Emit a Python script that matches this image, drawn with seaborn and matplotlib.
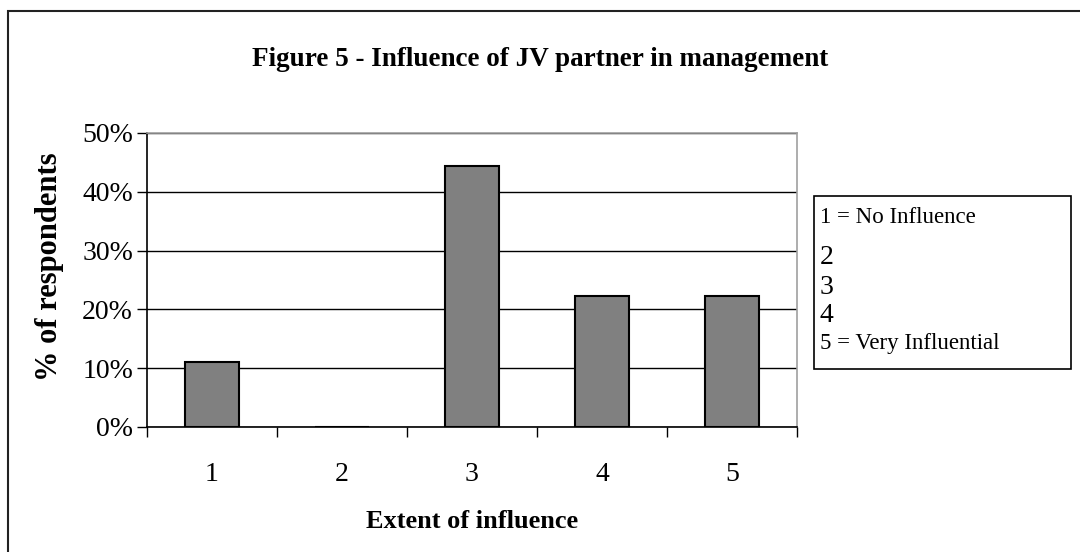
import pandas as pd
import seaborn as sns
import matplotlib.pyplot as plt
from matplotlib.patches import Rectangle

# Chart data
categories = ['1', '2', '3', '4', '5']
percent_respondents = [11.1, 0.0, 44.4, 22.2, 22.2]
y_ticks = [0, 10, 20, 30, 40, 50]
legend_lines = ['1 = No Influence', '2', '3', '4', '5 = Very Influential']

data = pd.DataFrame({'Extent': categories, 'Percent': percent_respondents})

sns.set_theme(style='white')
plt.rcParams['font.family'] = ['Liberation Serif', 'DejaVu Serif']
plt.rcParams['text.color'] = 'black'
plt.rcParams['axes.labelcolor'] = 'black'
plt.rcParams['xtick.color'] = 'black'
plt.rcParams['ytick.color'] = 'black'

fig = plt.figure(figsize=(10.8, 5.52), dpi=100)
ax = fig.add_axes([147 / 1080, 125 / 552, 650 / 1080, 294 / 552])

sns.barplot(
    data=data,
    x='Extent',
    y='Percent',
    color='#808080',
    saturation=1,
    edgecolor='black',
    linewidth=1.5,
    width=0.42,
    ax=ax,
    zorder=3
)

# Axes styling to mimic the old spreadsheet look
ax.set_ylim(0, 50)
ax.set_xlim(-0.5, 4.5)
ax.set_yticks(y_ticks)
ax.set_yticklabels([f'{t}%' for t in y_ticks], fontsize=20)
ax.set_xticks(range(len(categories)))
ax.set_xticklabels(categories, fontsize=20)
ax.yaxis.grid(True, color='black', linewidth=1)
ax.set_axisbelow(True)

for side in ['top', 'right']:
    ax.spines[side].set_color('#a0a0a0')
    ax.spines[side].set_linewidth(1.2)
for side in ['left', 'bottom']:
    ax.spines[side].set_color('black')
    ax.spines[side].set_linewidth(1.2)

ax.tick_params(axis='y', direction='out', length=7, width=1, pad=3, left=True)
ax.tick_params(axis='x', length=0, pad=25)
# x ticks sit between categories
ax.set_xticks([i - 0.5 for i in range(len(categories) + 1)], minor=True)
ax.tick_params(axis='x', which='minor', direction='out', length=7, width=1, bottom=True)

ax.set_xlabel('Extent of influence', fontsize=19, fontweight='bold', labelpad=17)
ax.set_ylabel('% of respondents', fontsize=22, fontweight='bold')
ax.yaxis.set_label_coords(-0.128, 0.545)

fig.text(0.5, 1 - 59 / 552, 'Figure 5 - Influence of JV partner in management',
         ha='center', va='center', fontsize=19.5, fontweight='bold')

# Text-only legend box
fig.patches.append(Rectangle((814 / 1080, 1 - 369 / 552), 257 / 1080, 173 / 552,
                             transform=fig.transFigure, facecolor='white',
                             edgecolor='black', linewidth=1.2))
legend_y = [217, 257, 287, 315, 344]
legend_size = [16.5, 20, 20, 20, 16.5]
for text, y, size in zip(legend_lines, legend_y, legend_size):
    fig.text(820 / 1080, 1 - y / 552, text, ha='left', va='center', fontsize=size)

# Outer chart border
fig.patches.append(Rectangle((8 / 1080, -0.1), 1.2, 1 - 11 / 552 + 0.1,
                             transform=fig.transFigure, fill=False,
                             edgecolor='#222222', linewidth=1.5))

plt.savefig('out.png', dpi=100)
plt.close()
